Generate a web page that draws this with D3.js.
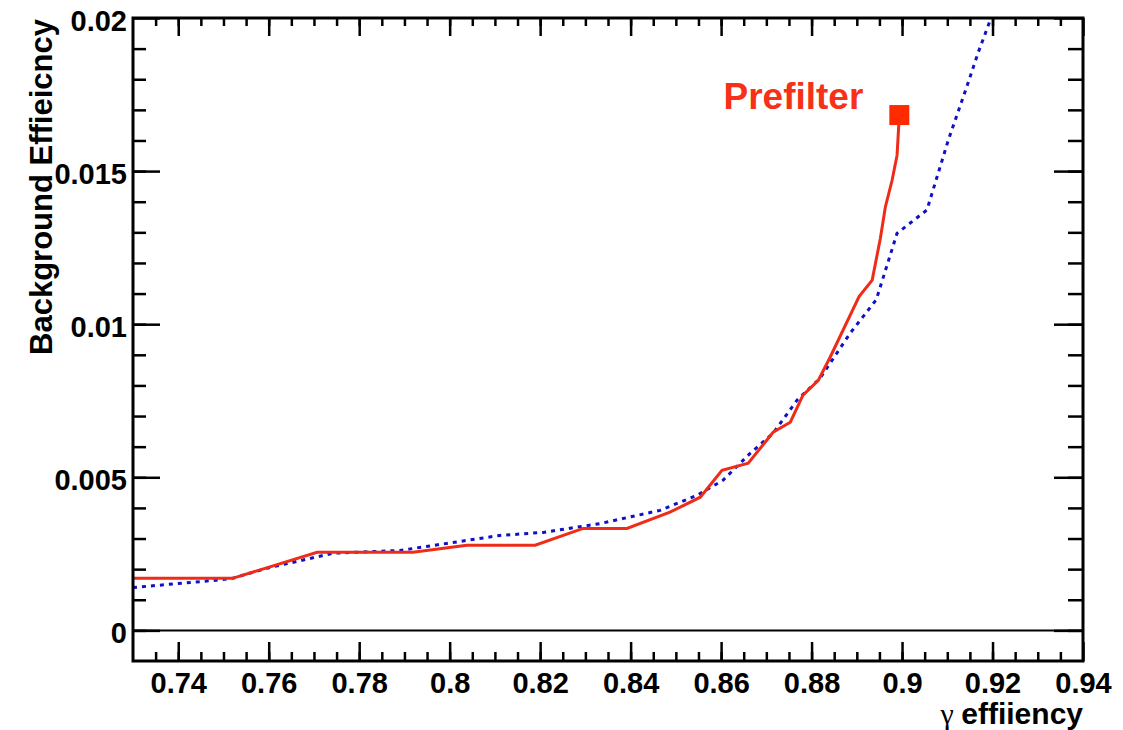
<!DOCTYPE html>
<meta charset="utf-8">
<head>
    <title>Background efficiency vs gamma efficiency</title>
    <style>
      body { margin: 0; background: #fff; }
      text { font-family: "Liberation Sans", Arial, Helvetica, sans-serif; font-weight: bold; }
    </style>
</head>
<body>
    <script src="https://cdn.jsdelivr.net/npm/d3@7"></script>
    <div id="chart"></div>
    <script>

        // prefilter curve (red, solid)
        var redX = [0.730, 0.752, 0.7707, 0.7919, 0.8038, 0.8189, 0.8295, 0.8392, 0.8487, 0.8554,
                    0.8602, 0.8660, 0.8715, 0.8753, 0.8781, 0.8815, 0.8841, 0.8905, 0.8934, 0.8952,
                    0.8963, 0.8978, 0.8989, 0.8994];
        var redY = [0.0017, 0.0017, 0.00255, 0.00255, 0.00278, 0.00278, 0.00333, 0.00333, 0.00386, 0.00435,
                    0.00523, 0.00546, 0.00647, 0.0068, 0.00768, 0.00817, 0.00892, 0.0109, 0.01144, 0.0128,
                    0.01382, 0.0147, 0.01552, 0.01683];

        // reference curve (blue, dotted)
        var blueX = [0.730, 0.7477, 0.752, 0.7596, 0.7742, 0.789, 0.8111, 0.8207, 0.8333, 0.8465,
                     0.8547, 0.8604, 0.8664, 0.8715, 0.8768, 0.8819, 0.8885, 0.8943, 0.8989, 0.9055,
                     0.9102, 0.9143, 0.9168, 0.9195, 0.9205];
        var blueY = [0.0014, 0.00163, 0.0017, 0.00203, 0.00252, 0.00261, 0.0031, 0.0032, 0.00349, 0.00392,
                     0.00441, 0.0049, 0.00578, 0.00644, 0.00752, 0.00824, 0.0097, 0.0108, 0.01297, 0.01373,
                     0.0160, 0.01775, 0.01886, 0.01993, 0.0203];

        var xMajor = [0.74, 0.76, 0.78, 0.8, 0.82, 0.84, 0.86, 0.88, 0.9, 0.92, 0.94];
        var yMajor = [0, 0.005, 0.01, 0.015, 0.02];

        var width = 1123;
        var height = 730;
        var padL = 133, padR = 1083, padT = 18, padB = 661;

        var x = d3.scaleLinear().domain([0.73, 0.94]).range([padL, padR]);
        var y = d3.scaleLinear().domain([-0.001, 0.02]).range([padB, padT]);

        var xMinor = d3.range(0, 43).map(function(i) { return +(0.73 + i * 0.005).toFixed(3); })
          .filter(function(v) { return v > 0.73 && v < 0.94; });
        var yMinor = d3.range(0, 22).map(function(i) { return +(-0.001 + i * 0.001).toFixed(3); })
          .filter(function(v) { return v > -0.001 && v < 0.02; });

        var fmt = function(d) { return String(+d.toFixed(3)); };

        var svg = d3.select('#chart')
          .append('svg')
          .attr('width', width)
          .attr('height', height);

        svg.append('rect').attr('width', width).attr('height', height).attr('fill', '#fff');

        function styleAxis(g, size) {
          g.select('.domain').remove();
          g.selectAll('line').attr('stroke', '#000').attr('stroke-width', 2.5);
          g.selectAll('text').attr('fill', '#000').style('font-size', size + 'px');
        }

        // bottom axis
        svg.append('g').attr('transform', 'translate(0,' + padB + ')')
          .call(d3.axisBottom(x).tickValues(xMinor).tickSize(-9).tickFormat(''))
          .call(styleAxis, 29);
        svg.append('g').attr('transform', 'translate(0,' + padB + ')')
          .call(d3.axisBottom(x).tickValues(xMajor).tickSize(-19).tickPadding(11).tickFormat(fmt))
          .call(styleAxis, 29);

        // top axis
        svg.append('g').attr('transform', 'translate(0,' + padT + ')')
          .call(d3.axisTop(x).tickValues(xMinor).tickSize(-8).tickFormat(''))
          .call(styleAxis, 29);
        svg.append('g').attr('transform', 'translate(0,' + padT + ')')
          .call(d3.axisTop(x).tickValues(xMajor).tickSize(-18).tickFormat(''))
          .call(styleAxis, 29);

        // left axis
        svg.append('g').attr('transform', 'translate(' + padL + ',0)')
          .call(d3.axisLeft(y).tickValues(yMinor).tickSize(-13).tickFormat(''))
          .call(styleAxis, 29);
        var yAxisG = svg.append('g').attr('transform', 'translate(' + padL + ',0)')
          .call(d3.axisLeft(y).tickValues(yMajor).tickSize(-27).tickPadding(6).tickFormat(fmt))
          .call(styleAxis, 29);
        yAxisG.selectAll('text').attr('dy', '0.42em');

        // right axis
        svg.append('g').attr('transform', 'translate(' + padR + ',0)')
          .call(d3.axisRight(y).tickValues(yMinor).tickSize(-15).tickFormat(''))
          .call(styleAxis, 29);
        svg.append('g').attr('transform', 'translate(' + padR + ',0)')
          .call(d3.axisRight(y).tickValues(yMajor).tickSize(-29).tickFormat(''))
          .call(styleAxis, 29);

        // zero line
        svg.append('line')
          .attr('x1', padL).attr('x2', padR)
          .attr('y1', y(0)).attr('y2', y(0))
          .attr('stroke', '#000').attr('stroke-width', 2);

        svg.append('clipPath').attr('id', 'plotClip')
          .append('rect')
          .attr('x', padL).attr('y', padT)
          .attr('width', padR - padL).attr('height', padB - padT);

        var line = d3.line()
          .x(function(d) { return x(d[0]); })
          .y(function(d) { return y(d[1]); });

        var blueData = blueX.map(function(v, i) { return [v, blueY[i]]; });
        var redData = redX.map(function(v, i) { return [v, redY[i]]; });

        var plot = svg.append('g').attr('clip-path', 'url(#plotClip)');

        plot.append('path')
          .datum(blueData)
          .attr('d', line)
          .attr('fill', 'none')
          .attr('stroke', '#1010c8')
          .attr('stroke-width', 3)
          .attr('stroke-dasharray', '4,5');

        plot.append('path')
          .datum(redData)
          .attr('d', line)
          .attr('fill', 'none')
          .attr('stroke', '#ee2c18')
          .attr('stroke-width', 3);

        var last = redData[redData.length - 1];
        svg.append('rect')
          .attr('x', x(last[0]) - 10).attr('y', y(last[1]) - 10)
          .attr('width', 20).attr('height', 20)
          .attr('fill', '#ff2a00');

        svg.append('text')
          .attr('x', x(last[0]) - 36)
          .attr('y', y(last[1]) - 6)
          .attr('text-anchor', 'end')
          .attr('fill', '#f7301a')
          .style('font-size', '37px')
          .text('Prefilter');

        // frame
        svg.append('rect')
          .attr('x', padL).attr('y', padT)
          .attr('width', padR - padL).attr('height', padB - padT)
          .attr('fill', 'none')
          .attr('stroke', '#000')
          .attr('stroke-width', 3);

        // axis titles
        var xt = svg.append('text')
          .attr('x', padR)
          .attr('y', 724)
          .attr('text-anchor', 'end')
          .style('font-size', '30px');
        xt.append('tspan')
          .style('font-family', '"Liberation Serif", "DejaVu Serif", serif')
          .style('font-weight', 'normal')
          .text('γ ');
        xt.append('tspan').text('effiiency');

        svg.append('text')
          .attr('transform', 'translate(52,' + (padT + 1) + ') rotate(-90)')
          .attr('text-anchor', 'end')
          .style('font-size', '31px')
          .text('Background Effieicncy');

  </script>
</body>
